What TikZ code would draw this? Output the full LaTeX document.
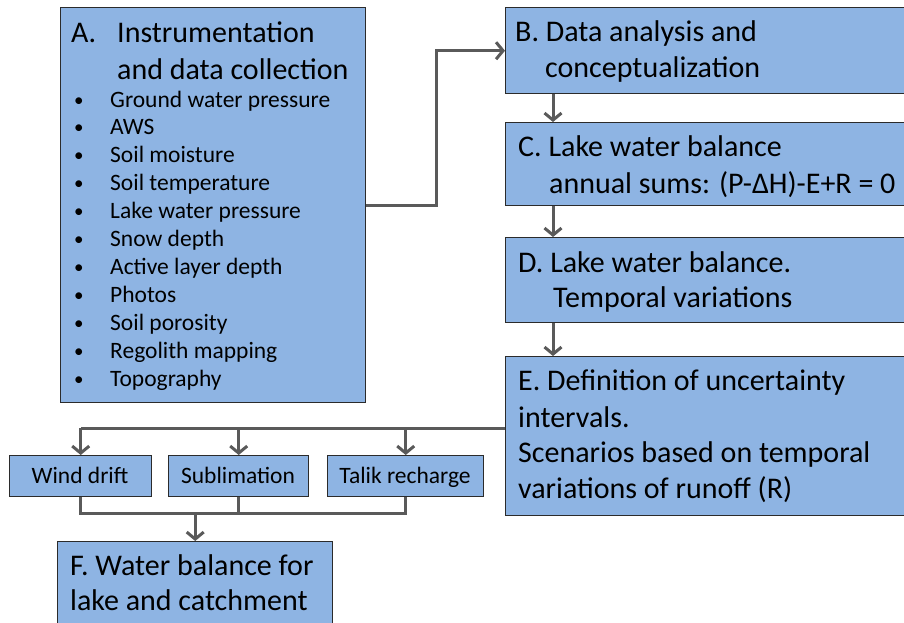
\documentclass[tikz,border=0pt]{standalone}
\usepackage{fontspec}
\setmainfont{Carlito}
\usetikzlibrary{arrows.meta}
\definecolor{boxfill}{HTML}{8EB4E3}
\definecolor{boxline}{HTML}{2B2B2B}
\definecolor{arrgray}{HTML}{5A5A5A}
\tikzset{
  box/.style={draw=boxline, line width=1.4pt, fill=boxfill, inner sep=0pt, anchor=north west},
  big/.style={anchor=base west, inner sep=0pt, font=\fontsize{30}{36}\selectfont},
  item/.style={anchor=base west, inner sep=0pt, font=\fontsize{23.5}{28}\selectfont},
  bull/.style={anchor=base west, inner sep=0pt, font=\fontsize{19}{28}\selectfont},
  small/.style={anchor=base, inner sep=0pt, font=\fontsize{23.5}{28}\selectfont},
  conn/.style={draw=arrgray, line width=3pt},
  arr/.style={conn, -{Straight Barb[length=7pt,width=17pt]}}
}
\begin{document}
\begin{tikzpicture}[x=1pt,y=-1pt]
\useasboundingbox (0,0) rectangle (904,622);
% boxes
\node[box, minimum width=305, minimum height=395] (A) at (60,7) {};
\node[box, minimum width=410, minimum height=86] (B) at (505,7) {};
\node[box, minimum width=410, minimum height=83] (C) at (505,122) {};
\node[box, minimum width=410, minimum height=85] (D) at (505,237) {};
\node[box, minimum width=410, minimum height=159] (E) at (505,356) {};
\node[box, minimum width=142, minimum height=41] (wind) at (9,455) {};
\node[box, minimum width=140, minimum height=41] (sub) at (168,455) {};
\node[box, minimum width=156, minimum height=41] (talik) at (327,455) {};
\node[box, minimum width=275, minimum height=100] (F) at (57,541) {};
% texts A
\node[big] (a1) at (71,42) {A.};
\node[big] (a2) at (117,42) {Instrumentation};
\node[big] (a3) at (117,79) {and data collection};
\foreach \t [count=\i] in {Ground water pressure, AWS, Soil moisture, Soil temperature, Lake water pressure, Snow depth, Active layer depth, Photos, Soil porosity, Regolith mapping, Topography}{
  \node[bull] (bul\i) at (74,{100+27.9*(\i-1)+6}) {•};
  \node[item] (it\i) at (110,{100+27.9*(\i-1)+7}) {\t};
}
% texts B-F
\node[big] (b1) at (515,41) {B. Data analysis and};
\node[big] (b2) at (545,77) {conceptualization};
\node[big] (c1) at (518,156) {C. Lake water balance};
\node[big] (c2) at (549,193) {annual sums: (P-ΔH)-E+R = 0};
\node[big] (d1) at (518,272) {D. Lake water balance.};
\node[big] (d2) at (553,307) {Temporal variations};
\node[big] (e1) at (518,390) {E. Definition of uncertainty};
\node[big] (e2) at (518,427) {intervals.};
\node[big] (e3) at (518,462) {Scenarios based on temporal};
\node[big] (e4) at (518,498) {variations of runoff (R)};
\node[big] (f1) at (70,575) {F. Water balance for};
\node[big] (f2) at (70,610) {lake and catchment};
\node[small] (w1) at (80,483) {Wind drift};
\node[small] (s1) at (238,483) {Sublimation};
\node[small] (t1) at (405,483) {Talik recharge};
% helper coordinates
\coordinate (xa) at (553,0);
\coordinate (hy) at (0,428);
\coordinate (by) at (0,513);
% connectors
\draw[arr] (A.east) -- ++(70,0) |- (B.west);
\draw[arr] (B.south -| xa) -- (C.north -| xa);
\draw[arr] (C.south -| xa) -- (D.north -| xa);
\draw[arr] (D.south -| xa) -- (E.north -| xa);
\draw[conn] (E.west |- hy) -- (wind.north |- hy);
\draw[arr] (wind.north |- hy) -- (wind.north);
\draw[arr] (sub.north |- hy) -- (sub.north);
\draw[arr] (talik.north |- hy) -- (talik.north);
\draw[conn] (wind.south) -- (wind.south |- by) -- (talik.south |- by) -- (talik.south);
\draw[conn] (sub.south) -- (sub.south |- by);
\draw[arr] (F.north |- by) -- (F.north);
\end{tikzpicture}
\end{document}
